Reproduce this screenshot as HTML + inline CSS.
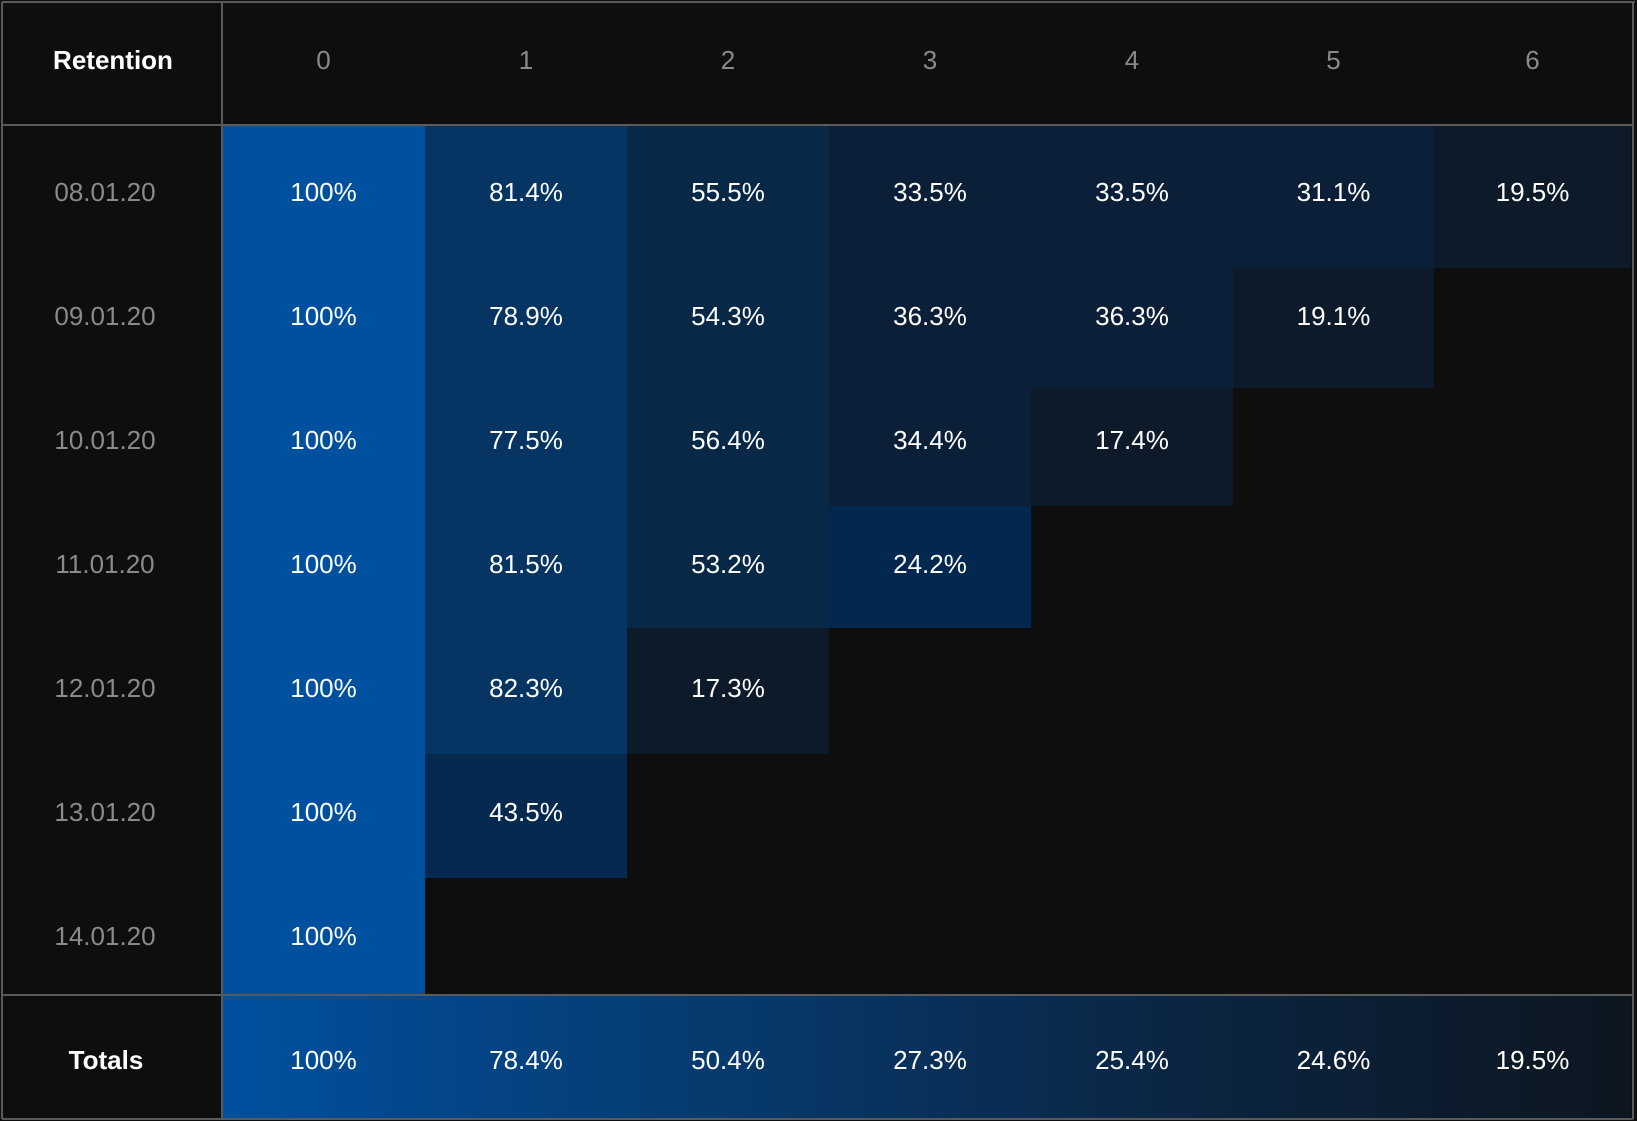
<!DOCTYPE html>
<html><head><meta charset="utf-8"><style>
html,body{margin:0;padding:0;background:#0e0e0e;}
svg{display:block;font-family:"Liberation Sans",sans-serif;}
</style></head><body>
<svg id="chart" width="1637" height="1121" viewBox="0 0 1637 1121">
<defs>
<linearGradient id="totGrad" x1="0" x2="1" y1="0" y2="0">
<stop offset="0" stop-color="#0050a0"/>
<stop offset="0.35" stop-color="#073a6e"/>
<stop offset="0.7" stop-color="#0b2440"/>
<stop offset="1" stop-color="#0d1620"/>
</linearGradient>
</defs>
<rect x="0" y="0" width="1637" height="1121" fill="#0e0e0e"/>
<g id="cells"></g>
<g id="texts"></g>
</svg>
<script>
const periods = ["0","1","2","3","4","5","6"];
const cohorts = ["08.01.20","09.01.20","10.01.20","11.01.20","12.01.20","13.01.20","14.01.20"];
const values = [
 [100,81.4,55.5,33.5,33.5,31.1,19.5],
 [100,78.9,54.3,36.3,36.3,19.1],
 [100,77.5,56.4,34.4,17.4],
 [100,81.5,53.2,24.2],
 [100,82.3,17.3],
 [100,43.5],
 [100]
];
const totals = [100,78.4,50.4,27.3,25.4,24.6,19.5];

const colX = [222,425,627,829,1031,1233,1434,1631];
const rowY = [125,268,388,506,628,754,878,995];
const totBottom = 1119;
const NS = "http://www.w3.org/2000/svg";
const cells = document.getElementById('cells');
const texts = document.getElementById('texts');

function color(v){
  if(v>=99) return "#0050a0";
  if(v>=75) return "#063563";
  if(v>=50) return "#082848";
  if(v>=40) return "#05294f";
  if(v>=30) return "#0b2038";
  if(v>=22) return "#03284f";
  return "#0c1a2a";
}
function mk(tag, attrs, parent){
  const e=document.createElementNS(NS,tag);
  for(const k in attrs) e.setAttribute(k,attrs[k]);
  parent.appendChild(e); return e;
}
function txt(x,y,s,fill,size,weight,parent){
  const t=mk('text',{x:x,y:y,fill:fill,'font-size':size,'font-weight':weight,'text-anchor':'middle','dominant-baseline':'central'},parent);
  t.textContent=s; return t;
}
// header
const h=txt(113,60,"Retention","#ffffff",26,"bold",texts);


periods.forEach((p,i)=>{
  const t=txt((colX[i]+colX[i+1])/2,60,p,"#8a8a8a",26,"normal",texts);
  
  
});
// cells
values.forEach((row,r)=>{
  const cy=192+124*r;
  const lbl=txt(105,cy,cohorts[r],"#8a8a8a",26,"normal",texts);
  
  
  row.forEach((v,c)=>{
    const y0 = (c===6 && r===0) ? rowY[0] : rowY[r];
    const y1 = rowY[r+1];
    const rc=mk('rect',{x:colX[c],y:y0,width:colX[c+1]-colX[c],height:y1-y0,fill:color(v)},cells);
    
    
    const t=txt((colX[c]+colX[c+1])/2,cy,(v===100?"100":v.toFixed(1))+"%","#ffffff",26,"normal",texts);
    
    
  });
});
// totals
const tr=mk('rect',{x:colX[0],y:rowY[7],width:colX[7]-colX[0],height:totBottom-rowY[7],fill:"url(#totGrad)"},cells);


const tl=txt(106,1060,"Totals","#ffffff",26,"bold",texts);


totals.forEach((v,c)=>{
  const t=txt((colX[c]+colX[c+1])/2,1060,(v===100?"100":v.toFixed(1))+"%","#ffffff",26,"normal",texts);
  
  
});
// grid lines
const lines=[[2,2,1635,2],[2,2,2,1119],[1633,2,1633,1119],[2,1119,1633,1119],[2,125,1633,125],[2,995,1633,995],[222,2,222,1119]];
lines.forEach(l=>{
  const ln=mk('line',{x1:l[0],y1:l[1],x2:l[2],y2:l[3],stroke:"#5a5a5a","stroke-width":2},texts);
  
  
});
</script>
</body></html>
